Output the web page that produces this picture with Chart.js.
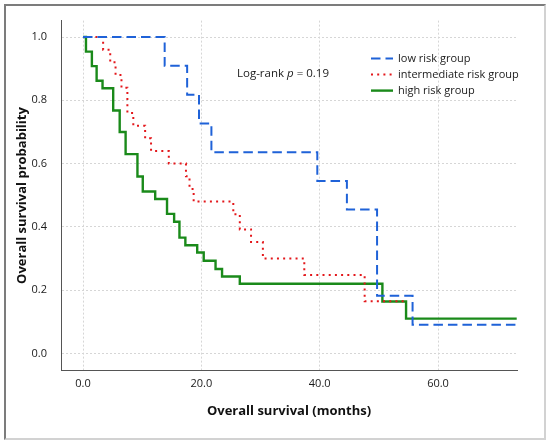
<!DOCTYPE html>
<html>
<head>
<meta charset="utf-8">
<script src="https://cdn.jsdelivr.net/npm/chart.js@4.4.1/dist/chart.umd.min.js"></script>
<style>
  html, body { margin: 0; padding: 0; background: #fff; }
  #wrap { position: relative; width: 550px; height: 442px; }
  #frame {
    position: absolute; left: 4px; top: 4px; width: 538px; height: 432px;
    border-top: 2px solid #7c7c7c; border-left: 2px solid #7c7c7c;
    border-right: 2px solid #d2d2d2; border-bottom: 2px solid #d2d2d2;
    pointer-events: none;
  }
  canvas { position: absolute; left: 0; top: 0; }
</style>
</head>
<body>
<div id="wrap">
  <canvas id="km" width="550" height="442"></canvas>
  <div id="frame"></div>
</div>
<script>
// Kaplan-Meier steps (months, survival)
const lowTimes = [0, 13.8, 17.6, 19.6, 21.7, 39.6, 44.6, 49.7, 55.7, 73.3];
const lowSurv  = [1, 0.909, 0.818, 0.727, 0.636, 0.545, 0.455, 0.182, 0.091, 0.091];

const midTimes = [0, 3.4, 4.6, 5.5, 6.5, 7.5, 8.5, 10.5, 11.5, 14.5, 17.4, 18.0, 18.7, 25.4, 26.5, 28.4, 30.4, 37.4, 47.6, 54.2];
const midSurv  = [1, 0.96, 0.92, 0.88, 0.84, 0.76, 0.72, 0.68, 0.64, 0.60, 0.56, 0.52, 0.48, 0.44, 0.392, 0.352, 0.300, 0.248, 0.165, 0.165];

const highTimes = [0, 0.5, 1.5, 2.3, 3.3, 5.1, 6.2, 7.2, 9.2, 10.1, 12.2, 14.2, 15.4, 16.3, 17.3, 19.3, 20.4, 22.4, 23.5, 26.5, 50.6, 54.6, 73.3];
const highSurv  = [1, 0.954, 0.908, 0.862, 0.838, 0.768, 0.700, 0.630, 0.559, 0.512, 0.488, 0.441, 0.416, 0.366, 0.342, 0.319, 0.293, 0.267, 0.243, 0.220, 0.164, 0.110, 0.110];

const groupLabels = ['low risk group', 'intermediate risk group', 'high risk group'];
const xTickValues = [0, 20, 40, 60];
const yTickValues = [0, 0.2, 0.4, 0.6, 0.8, 1.0];
const logRankText = 'Log-rank';
const pValueText = '0.19';

const FONT = "'Open Sans', 'Noto Sans', sans-serif";

function toPoints(times, surv) {
    return times.map((t, i) => ({ x: t, y: surv[i] }));
}

// Legend and p-value drawn inside the plot area
const annotations = {
    id: 'annotations',
    afterDraw(chart) {
        const ctx = chart.ctx;
        const area = chart.chartArea;
        ctx.save();
        ctx.textBaseline = 'middle';
        ctx.fillStyle = '#1a1a1a';

        // Log-rank p = 0.19
        let x = area.left + 176;
        const y = area.top + 53;
        ctx.font = '11.5px ' + FONT;
        ctx.fillText(logRankText + ' ', x, y);
        x += ctx.measureText(logRankText + ' ').width;
        ctx.font = 'italic 11.5px ' + FONT;
        ctx.fillText('p', x, y);
        x += ctx.measureText('p').width;
        ctx.font = '11.5px ' + FONT;
        ctx.fillText(' = ' + pValueText, x, y);

        // legend
        chart.data.datasets.forEach((ds, i) => {
            const ly = area.top + 38 + i * 16;
            const lx = area.left + 310;
            ctx.save();
            ctx.strokeStyle = ds.borderColor;
            ctx.lineWidth = ds.borderWidth;
            ctx.setLineDash(ds.borderDash || []);
            ctx.beginPath();
            ctx.moveTo(lx, ly);
            ctx.lineTo(lx + 22, ly);
            ctx.stroke();
            ctx.restore();
            ctx.font = '11px ' + FONT;
            ctx.fillText(ds.label, lx + 27, ly);
        });
        ctx.restore();
    }
};

new Chart(document.getElementById('km'), {
    type: 'line',
    data: {
        datasets: [
            {
                label: groupLabels[0],
                data: toPoints(lowTimes, lowSurv),
                borderColor: '#1f62d8',
                borderWidth: 2,
                borderDash: [9.5, 5],
                stepped: 'before',
                pointRadius: 0,
                fill: false
            },
            {
                label: groupLabels[1],
                data: toPoints(midTimes, midSurv),
                borderColor: '#e3171b',
                borderWidth: 2,
                borderDash: [2, 4.2],
                stepped: 'before',
                pointRadius: 0,
                fill: false
            },
            {
                label: groupLabels[2],
                data: toPoints(highTimes, highSurv),
                borderColor: '#1a8a1a',
                borderWidth: 2.4,
                stepped: 'before',
                pointRadius: 0,
                fill: false
            }
        ]
    },
    options: {
        responsive: false,
        animation: false,
        layout: { padding: { left: 0, top: 18, right: 33, bottom: 0 } },
        plugins: {
            legend: { display: false },
            tooltip: { enabled: false }
        },
        scales: {
            x: {
                type: 'linear',
                min: -3.72,
                max: 73.35,
                afterBuildTicks: scale => { scale.ticks = xTickValues.map(v => ({ value: v })); },
                afterFit: scale => { scale.height = 71.5; },
                ticks: {
                    padding: 7,
                    color: '#1a1a1a',
                    font: { family: FONT, size: 11 },
                    callback: v => v.toFixed(1)
                },
                grid: { color: '#d6d6d6', lineWidth: 1, drawTicks: false },
                border: { color: '#555', width: 1, dash: [2, 2] },
                title: {
                    display: true,
                    text: 'Overall survival (months)',
                    color: '#111',
                    font: { family: FONT, size: 13, weight: 'bold' },
                    padding: { top: 0, bottom: 22.5 }
                }
            },
            y: {
                type: 'linear',
                min: -0.054,
                max: 1.052,
                afterBuildTicks: scale => { scale.ticks = yTickValues.map(v => ({ value: v })); },
                afterFit: scale => { scale.width = 61; },
                ticks: {
                    padding: 14,
                    color: '#1a1a1a',
                    font: { family: FONT, size: 11 },
                    callback: v => v.toFixed(1)
                },
                grid: { color: '#d6d6d6', lineWidth: 1, drawTicks: false },
                border: { color: '#555', width: 1, dash: [2, 2] },
                title: {
                    display: true,
                    text: 'Overall survival probability',
                    color: '#111',
                    font: { family: FONT, size: 13, weight: 'bold' },
                    padding: { top: 14, bottom: 0 }
                }
            }
        }
    },
    plugins: [annotations]
});
</script>
</body>
</html>
